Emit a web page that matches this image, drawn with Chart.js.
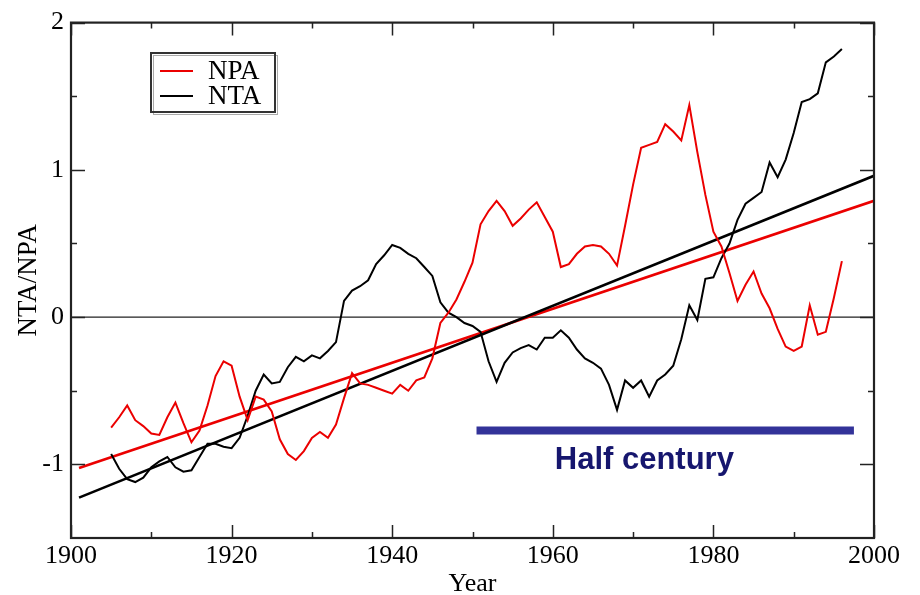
<!DOCTYPE html>
<html>
<head>
<meta charset="utf-8">
<title>NTA / NPA</title>
<script src="https://cdn.jsdelivr.net/npm/chart.js@4.4.1/dist/chart.umd.min.js"></script>
<style>
  html, body { margin: 0; padding: 0; background: #fff; }
  #wrap { width: 920px; height: 595px; }
</style>
</head>
<body>
<div id="wrap"><canvas id="nta-npa-chart" width="920" height="595"></canvas></div>
<script>
// yearly values
const years = [
  1905, 1906, 1907, 1908, 1909, 1910, 1911, 1912, 1913, 1914,
  1915, 1916, 1917, 1918, 1919, 1920, 1921, 1922, 1923, 1924,
  1925, 1926, 1927, 1928, 1929, 1930, 1931, 1932, 1933, 1934,
  1935, 1936, 1937, 1938, 1939, 1940, 1941, 1942, 1943, 1944,
  1945, 1946, 1947, 1948, 1949, 1950, 1951, 1952, 1953, 1954,
  1955, 1956, 1957, 1958, 1959, 1960, 1961, 1962, 1963, 1964,
  1965, 1966, 1967, 1968, 1969, 1970, 1971, 1972, 1973, 1974,
  1975, 1976, 1977, 1978, 1979, 1980, 1981, 1982, 1983, 1984,
  1985, 1986, 1987, 1988, 1989, 1990, 1991, 1992, 1993, 1994,
  1995, 1996
];

const npa = [
  -0.75, -0.68, -0.60, -0.70, -0.74, -0.79, -0.80, -0.68, -0.58, -0.72,
  -0.85, -0.77, -0.60, -0.40, -0.30, -0.33, -0.54, -0.70, -0.54, -0.56,
  -0.64, -0.83, -0.93, -0.97, -0.91, -0.82, -0.78, -0.82, -0.73, -0.55,
  -0.38, -0.45, -0.46, -0.48, -0.50, -0.52, -0.46, -0.50, -0.43, -0.41,
  -0.28, -0.04, 0.03, 0.12, 0.24, 0.37, 0.63, 0.72, 0.79, 0.72,
  0.62, 0.67, 0.73, 0.78, 0.68, 0.58, 0.34, 0.36, 0.43, 0.48,
  0.49, 0.48, 0.43, 0.35, 0.62, 0.90, 1.15, 1.17, 1.19, 1.31,
  1.26, 1.20, 1.44, 1.12, 0.83, 0.58, 0.48, 0.30, 0.11, 0.22,
  0.31, 0.16, 0.06, -0.08, -0.20, -0.23, -0.20, 0.08, -0.12, -0.10,
  0.13, 0.38
];

const nta = [
  -0.93, -1.03, -1.10, -1.12, -1.09, -1.02, -0.98, -0.95, -1.02, -1.05,
  -1.04, -0.95, -0.86, -0.86, -0.88, -0.89, -0.82, -0.67, -0.50, -0.39,
  -0.45, -0.44, -0.34, -0.27, -0.30, -0.26, -0.28, -0.23, -0.17, 0.11,
  0.18, 0.21, 0.25, 0.36, 0.42, 0.49, 0.47, 0.43, 0.40, 0.34,
  0.28, 0.10, 0.03, 0.00, -0.04, -0.06, -0.10, -0.30, -0.44, -0.31,
  -0.24, -0.21, -0.19, -0.22, -0.14, -0.14, -0.09, -0.14, -0.22, -0.28,
  -0.31, -0.35, -0.46, -0.63, -0.43, -0.48, -0.43, -0.54, -0.43, -0.39,
  -0.33, -0.15, 0.08, -0.02, 0.26, 0.27, 0.40, 0.50, 0.66, 0.77,
  0.81, 0.85, 1.05, 0.95, 1.07, 1.25, 1.46, 1.48, 1.52, 1.73,
  1.77, 1.82
];

// linear trends
const trendYears = [1901, 2000];
const npaTrend = [-1.025, 0.79];
const ntaTrend = [-1.226, 0.96];

// "Half century" marker
const halfYears = [1950.5, 1997.5];
const halfLevel = [-0.77, -0.77];
const halfLabel = 'Half century';
const halfLabelAt = [1971.4, -0.97];

const zeroYears = [1900, 2000];
const zeroLevel = [0, 0];

// axis ticks
const xLabels = [1900, 1920, 1940, 1960, 1980, 2000];
const xMinor = [1910, 1930, 1950, 1970, 1990];
const yLabels = [-1, 0, 1, 2];
const yMinor = [-0.5, 0.5, 1.5];

const serif = '"Liberation Serif", "Times New Roman", serif';

const pts = (xs, ys) => xs.map((x, i) => ({ x: x, y: ys[i] }));

// frame with inward tick marks on all four sides
const frame_ticks = {
  id: 'frameTicks',
  afterDatasetsDraw(chart) {
    const { ctx, chartArea: a, scales: { x, y } } = chart;
    ctx.save();
    ctx.strokeStyle = '#222';
    ctx.lineWidth = 1.5;
    ctx.beginPath();
    const vtick = (v, len) => {
      const px = Math.round(x.getPixelForValue(v)) + 0.5;
      ctx.moveTo(px, a.bottom); ctx.lineTo(px, a.bottom - len);
      ctx.moveTo(px, a.top); ctx.lineTo(px, a.top + len);
    };
    const htick = (v, len) => {
      const py = Math.round(y.getPixelForValue(v)) + 0.5;
      ctx.moveTo(a.left, py); ctx.lineTo(a.left + len, py);
      ctx.moveTo(a.right, py); ctx.lineTo(a.right - len, py);
    };
    xLabels.forEach(v => vtick(v, 13));
    xMinor.forEach(v => vtick(v, 6));
    yLabels.forEach(v => htick(v, 14));
    yMinor.forEach(v => htick(v, 6));
    ctx.stroke();
    ctx.lineWidth = 2.2;
    ctx.strokeRect(a.left, a.top, a.right - a.left, a.bottom - a.top);
    ctx.restore();
  }
};

// boxed legend in the upper left, like the original
const legend_box = {
  id: 'legendBox',
  afterDraw(chart) {
    const ctx = chart.ctx;
    const items = chart.data.datasets.filter(d => d.inLegend);
    ctx.save();
    ctx.strokeStyle = '#aaa';
    ctx.lineWidth = 1;
    ctx.strokeRect(153.5, 55.5, 124, 59);
    ctx.strokeStyle = '#333';
    ctx.lineWidth = 2;
    ctx.strokeRect(151, 53, 124, 59);
    items.forEach((d, i) => {
      const yy = 71 + i * 25;
      ctx.strokeStyle = d.borderColor;
      ctx.lineWidth = 2;
      ctx.beginPath();
      ctx.moveTo(160, yy);
      ctx.lineTo(193, yy);
      ctx.stroke();
      ctx.fillStyle = '#000';
      ctx.font = '27px ' + serif;
      ctx.textBaseline = 'middle';
      ctx.fillText(d.label, 208, yy + 1);
    });
    ctx.restore();
  }
};

const half_text = {
  id: 'halfText',
  afterDraw(chart) {
    const { ctx, scales: { x, y } } = chart;
    ctx.save();
    ctx.font = 'bold 31px "Liberation Sans", Arial, sans-serif';
    ctx.fillStyle = '#16166e';
    ctx.textAlign = 'center';
    ctx.textBaseline = 'middle';
    ctx.fillText(halfLabel, x.getPixelForValue(halfLabelAt[0]), y.getPixelForValue(halfLabelAt[1]));
    ctx.restore();
  }
};

new Chart(document.getElementById('nta-npa-chart'), {
  type: 'line',
  data: {
    datasets: [
      {
        label: 'NPA',
        inLegend: true,
        data: pts(years, npa),
        borderColor: 'rgb(235, 0, 0)',
        borderWidth: 2,
      },
      {
        label: 'NTA',
        inLegend: true,
        data: pts(years, nta),
        borderColor: '#000',
        borderWidth: 2,
      },
      {
        label: 'NTA trend',
        data: pts(trendYears, ntaTrend),
        borderColor: '#000',
        borderWidth: 2.6,
      },
      {
        label: 'NPA trend',
        data: pts(trendYears, npaTrend),
        borderColor: 'rgb(235, 0, 0)',
        borderWidth: 2.6,
      },
      {
        label: 'Half century',
        data: pts(halfYears, halfLevel),
        borderColor: 'rgb(51, 51, 153)',
        borderWidth: 8,
        borderCapStyle: 'butt',
      },
      {
        label: 'zero',
        data: pts(zeroYears, zeroLevel),
        borderColor: '#222',
        borderWidth: 1.2,
      },
    ],
  },
  options: {
    responsive: false,
    animation: false,
    elements: { point: { radius: 0 }, line: { tension: 0, fill: false } },
    layout: { padding: { top: 16, right: 46, bottom: 0, left: 0 } },
    plugins: {
      legend: { display: false },
      tooltip: { enabled: false },
    },
    scales: {
      x: {
        type: 'linear',
        min: 1900,
        max: 2000,
        afterFit: s => { s.height = 57; },
        afterBuildTicks: s => { s.ticks = xLabels.map(v => ({ value: v })); },
        grid: { display: false, drawTicks: false },
        border: { display: false },
        ticks: {
          font: { family: serif, size: 26 },
          color: '#000',
          padding: 3,
          maxRotation: 0,
          autoSkip: false,
          callback: v => String(v),
        },
        title: {
          display: true,
          text: 'Year',
          font: { family: serif, size: 26, lineHeight: 0.8 },
          color: '#000',
          padding: { top: 0, bottom: 0 },
        },
      },
      y: {
        type: 'linear',
        min: -1.5,
        max: 2,
        afterFit: s => { s.width = 71; },
        afterBuildTicks: s => { s.ticks = yLabels.map(v => ({ value: v })); },
        grid: { display: false, drawTicks: false },
        border: { display: false },
        ticks: {
          font: { family: serif, size: 26 },
          color: '#000',
          padding: 7,
        },
        title: {
          display: true,
          text: 'NTA/NPA',
          font: { family: serif, size: 27, lineHeight: 1 },
          color: '#000',
          padding: { top: 15, bottom: 0 },
        },
      },
    },
  },
  plugins: [frame_ticks, legend_box, half_text],
});
</script>
</body>
</html>
